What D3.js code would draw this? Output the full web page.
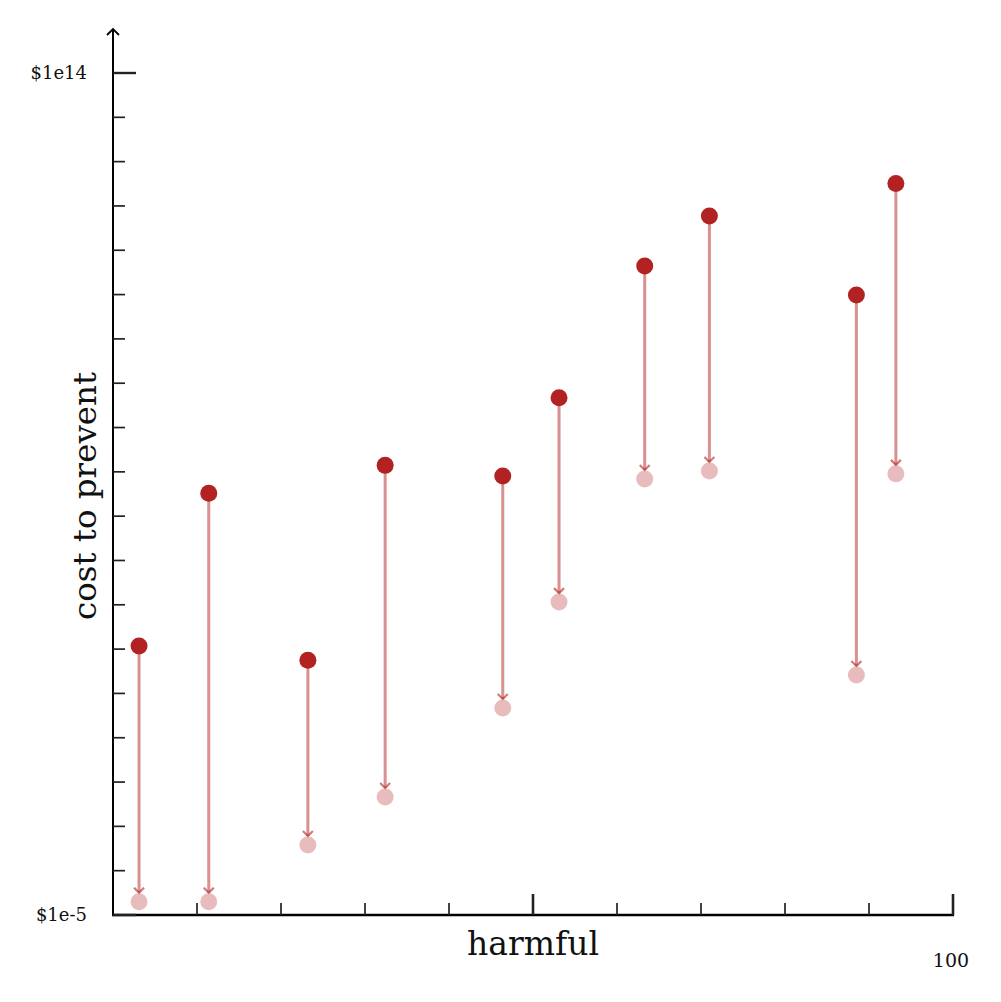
<!DOCTYPE html>
<html>
<head>
<meta charset="utf-8">
<script src="https://cdn.jsdelivr.net/npm/d3@7"></script>
<style>
  body { margin: 0; background: #fff; }
  text { font-family: "DejaVu Serif", "Liberation Serif", serif; fill: #111; }
</style>
</head>
<body>
<div id="chart"></div>
<script>
// harm score of each item, and cost to prevent before / after
var harm = [3.1, 11.4, 23.2, 32.4, 46.4, 53.1, 63.3, 71.0, 88.5, 93.2];
var costBefore = [11.7, 3.3e4, 5.6, 1.4e5, 8.1e4, 4.7e6, 4.4e9, 5.9e10, 9.8e8, 3.2e11];
var costAfter = [2e-5, 2e-5, 3.8e-4, 4.6e-3, 0.47, 115, 6.9e4, 1.05e5, 2.6, 9e4];

var yTickVals = d3.range(-5, 15).map(e => Math.pow(10, e));
var xTickVals = d3.range(10, 101, 10);

var width = 1001, height = 1002;
var color = "#b22222";

var svg = d3.select("#chart").append("svg")
    .attr("width", width)
    .attr("height", height);

var x = d3.scaleLinear().domain([0, 100]).range([113, 953]);
var y = d3.scaleLog().domain([1e-5, 1e14]).range([915, 73]);

// arrow head marker
svg.append("defs").append("marker")
    .attr("id", "chev")
    .attr("viewBox", "-6 -6 12 12")
    .attr("refX", 0).attr("refY", 0)
    .attr("markerWidth", 12).attr("markerHeight", 12)
    .attr("markerUnits", "userSpaceOnUse")
    .attr("orient", "auto")
    .append("path")
    .attr("d", "M-5,-5 L0,0 L-5,5")
    .attr("fill", "none")
    .attr("stroke", color)
    .attr("stroke-opacity", 0.6)
    .attr("stroke-width", 2.2);

// y axis line with arrow
svg.append("line")
    .attr("x1", 113).attr("x2", 113)
    .attr("y1", 916).attr("y2", 29)
    .attr("stroke", "#000").attr("stroke-width", 2);
svg.append("path")
    .attr("d", "M107,35 L113,29 L119,35")
    .attr("fill", "none").attr("stroke", "#000").attr("stroke-width", 1.8);

// x axis line
svg.append("line")
    .attr("x1", 112).attr("x2", 954)
    .attr("y1", 915).attr("y2", 915)
    .attr("stroke", "#000").attr("stroke-width", 2.4);

// y ticks (pointing inward)
svg.selectAll(".ytick")
    .data(yTickVals)
    .join("line")
    .attr("class", "ytick")
    .attr("x1", 113)
    .attr("x2", d => (d === 1e14 || d === 1e-5) ? 136 : 125)
    .attr("y1", d => y(d)).attr("y2", d => y(d))
    .attr("stroke", "#222")
    .attr("stroke-width", d => (d === 1e14 || d === 1e-5) ? 2.4 : 1.7);

// x ticks (pointing up)
svg.selectAll(".xtick")
    .data(xTickVals)
    .join("line")
    .attr("class", "xtick")
    .attr("x1", d => x(d)).attr("x2", d => x(d))
    .attr("y1", 915)
    .attr("y2", d => d % 50 === 0 ? 894 : 903)
    .attr("stroke", "#222")
    .attr("stroke-width", d => d % 50 === 0 ? 2.6 : 1.7);

// tick labels
svg.append("text").attr("x", 87).attr("y", 73).attr("dy", "0.35em")
    .attr("text-anchor", "end").attr("font-size", 18).text("$1e14");
svg.append("text").attr("x", 87).attr("y", 915).attr("dy", "0.35em")
    .attr("text-anchor", "end").attr("font-size", 18).text("$1e-5");
svg.append("text").attr("x", 951).attr("y", 967)
    .attr("text-anchor", "middle").attr("font-size", 19).text("100");

// axis titles
svg.append("text").attr("x", 533).attr("y", 955)
    .attr("text-anchor", "middle").attr("font-size", 33).text("harmful");
svg.append("text")
    .attr("transform", "translate(96,496) rotate(-90)")
    .attr("text-anchor", "middle").attr("font-size", 32.5).text("cost to prevent");

var items = harm.map((h, i) => ({ h: h, before: costBefore[i], after: costAfter[i] }));

// connecting arrows
svg.selectAll(".link")
    .data(items)
    .join("line")
    .attr("class", "link")
    .attr("x1", d => x(d.h)).attr("x2", d => x(d.h))
    .attr("y1", d => y(d.before))
    .attr("y2", d => y(d.after) - 9)
    .attr("stroke", color)
    .attr("stroke-opacity", 0.5)
    .attr("stroke-width", 3)
    .attr("marker-end", "url(#chev)");

// after dots (faded)
svg.selectAll(".after")
    .data(items)
    .join("circle")
    .attr("class", "after")
    .attr("cx", d => x(d.h)).attr("cy", d => y(d.after))
    .attr("r", 8.5)
    .attr("fill", color)
    .attr("fill-opacity", 0.3);

// before dots
svg.selectAll(".before")
    .data(items)
    .join("circle")
    .attr("class", "before")
    .attr("cx", d => x(d.h)).attr("cy", d => y(d.before))
    .attr("r", 8.5)
    .attr("fill", color);
</script>
</body>
</html>
